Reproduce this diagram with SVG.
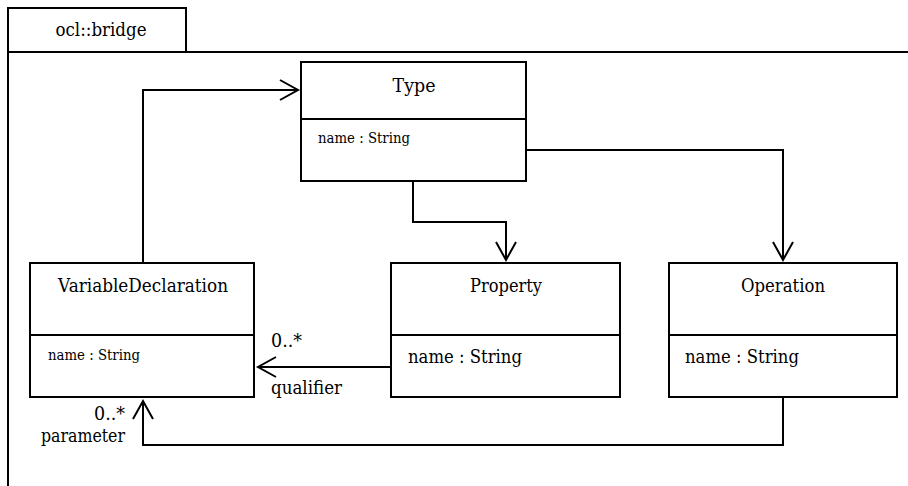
<svg xmlns="http://www.w3.org/2000/svg" width="908" height="486" viewBox="0 0 908 486">
<style>
.bx{fill:#fff;stroke:#000;stroke-width:2}
.ln{fill:none;stroke:#000;stroke-width:2}
text{font-family:'DejaVu Serif',serif;fill:#000}
.t{font-size:19px;text-anchor:middle}
.a{font-size:19px}
.s{font-size:15.5px}
</style>
<defs>
<marker id="open" markerUnits="userSpaceOnUse" markerWidth="24" markerHeight="24" viewBox="-20 -12 24 24" refX="0" refY="0" orient="auto">
<path d="M-18,-10 L0,0 L-18,10" fill="none" stroke="#000" stroke-width="2"/>
</marker>
</defs>
<g id="package">
<rect x="8" y="8" width="178" height="44" class="bx"/>
<path d="M8,52 H912 M8,52 V492" class="ln"/>
<text x="101" y="36" class="t" textLength="91" lengthAdjust="spacingAndGlyphs">ocl::bridge</text>
</g>
<g id="connectors">
<path d="M143,263 V90 H298" class="ln" marker-end="url(#open)"/>
<path d="M413,181 V222 H506 V260" class="ln" marker-end="url(#open)"/>
<path d="M526,150 H783 V260" class="ln" marker-end="url(#open)"/>
<path d="M391,367 H258" class="ln" marker-end="url(#open)"/>
<path d="M783,397 V445 H143 V401" class="ln" marker-end="url(#open)"/>
<text x="271" y="347" class="a" textLength="31" lengthAdjust="spacingAndGlyphs">0..*</text>
<text x="271" y="394" class="a" textLength="71" lengthAdjust="spacingAndGlyphs">qualifier</text>
<text x="125" y="420" class="a" text-anchor="end" textLength="31" lengthAdjust="spacingAndGlyphs">0..*</text>
<text x="125" y="442" class="a" text-anchor="end" textLength="84" lengthAdjust="spacingAndGlyphs">parameter</text>
</g>
<g id="Type">
<rect x="301" y="62" width="225" height="119" class="bx"/>
<path d="M301,119 H526" class="ln"/>
<text x="414" y="92" class="t" textLength="43" lengthAdjust="spacingAndGlyphs">Type</text>
<text x="318" y="143" class="s" textLength="92" lengthAdjust="spacingAndGlyphs">name : String</text>
</g>
<g id="VariableDeclaration">
<rect x="30" y="263" width="224" height="134" class="bx"/>
<path d="M30,335 H254" class="ln"/>
<text x="143" y="292" class="t" textLength="170" lengthAdjust="spacingAndGlyphs">VariableDeclaration</text>
<text x="48" y="360" class="s" textLength="92" lengthAdjust="spacingAndGlyphs">name : String</text>
</g>
<g id="Property">
<rect x="391" y="263" width="229" height="134" class="bx"/>
<path d="M391,335 H620" class="ln"/>
<text x="506" y="292" class="t" textLength="72" lengthAdjust="spacingAndGlyphs">Property</text>
<text x="408" y="363" class="a" textLength="114" lengthAdjust="spacingAndGlyphs">name : String</text>
</g>
<g id="Operation">
<rect x="669" y="263" width="228" height="134" class="bx"/>
<path d="M669,335 H897" class="ln"/>
<text x="783" y="292" class="t" textLength="84" lengthAdjust="spacingAndGlyphs">Operation</text>
<text x="685" y="363" class="a" textLength="114" lengthAdjust="spacingAndGlyphs">name : String</text>
</g>
</svg>
